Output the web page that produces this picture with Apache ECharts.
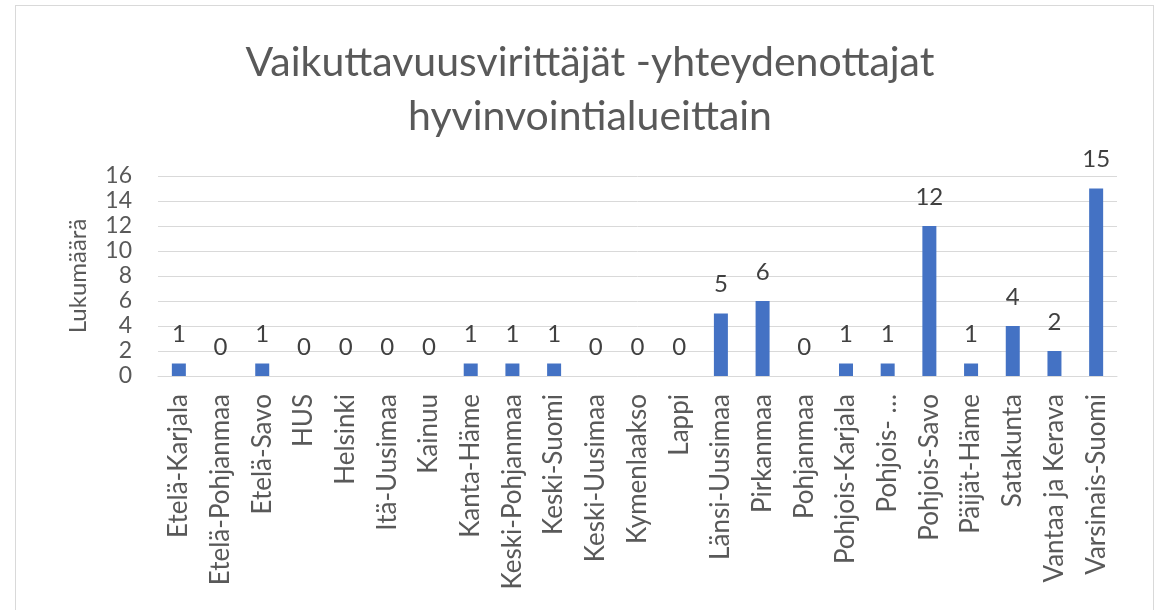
<!DOCTYPE html>
<html>
<head>
<meta charset="utf-8">
<script src="https://cdn.jsdelivr.net/npm/echarts@6/dist/echarts.min.js"></script>
<style>
  body { margin: 0; background: #fff; }
  .frame {
    position: absolute;
    left: 15px;
    top: 5px;
    width: 1137px;
    height: 640px;
    border: 1px solid #d9d9d9;
  }
  #bar { width: 1160px; height: 610px; position: absolute; left: 0; top: 0; }
</style>
</head>
<body>
<div class="frame"></div>
<div id="bar"></div>
<script>
// hyvinvointialueet
const categories = [
  "Etelä-Karjala", "Etelä-Pohjanmaa", "Etelä-Savo", "HUS", "Helsinki",
  "Itä-Uusimaa", "Kainuu", "Kanta-Häme", "Keski-Pohjanmaa", "Keski-Suomi",
  "Keski-Uusimaa", "Kymenlaakso", "Lappi", "Länsi-Uusimaa", "Pirkanmaa",
  "Pohjanmaa", "Pohjois-Karjala", "Pohjois-Pohjanmaa", "Pohjois-Savo",
  "Päijät-Häme", "Satakunta", "Vantaa ja Kerava", "Varsinais-Suomi"
];
const counts = [1, 0, 1, 0, 0, 0, 0, 1, 1, 1, 0, 0, 0, 5, 6, 0, 1, 1, 12, 1, 4, 2, 15];
const yTicks = { min: 0, max: 16, step: 2 };

const font = "Lato, 'Open Sans', sans-serif";
const myEchart = echarts.init(document.getElementById("bar"));
myEchart.setOption({
  title: {
    text: "Vaikuttavuusvirittäjät -yhteydenottajat\nhyvinvointialueittain",
    left: 585,
    top: 31,
    textAlign: "center",
    textStyle: {
      fontFamily: font,
      fontSize: 41,
      fontWeight: "normal",
      color: "#595959",
      lineHeight: 54,
    },
  },
  grid: {
    left: 158,
    right: 43,
    top: 176,
    bottom: 234,
    containLabel: false,
  },
  xAxis: {
    type: "category",
    data: categories,
    axisTick: { show: false },
    axisLine: { lineStyle: { color: "#d9d9d9" } },
    axisLabel: {
      interval: 0,
      rotate: 90,
      margin: 18,
      fontFamily: font,
      fontSize: 26,
      color: "#595959",
      formatter: (v) => (v.length > 16 ? v.slice(0, 8) + " …" : v),
    },
  },
  yAxis: {
    type: "value",
    min: yTicks.min,
    max: yTicks.max,
    interval: yTicks.step,
    name: "Lukumäärä",
    nameLocation: "middle",
    nameGap: 68,
    nameTextStyle: { fontFamily: font, fontSize: 24, color: "#595959" },
    axisLine: { show: false },
    axisTick: { show: false },
    axisLabel: { fontFamily: font, fontSize: 23, color: "#595959", margin: 26 },
    splitLine: { lineStyle: { color: "#d9d9d9" } },
  },
  series: [
    {
      type: "bar",
      data: counts,
      barWidth: 14,
      itemStyle: { color: "#4472c4" },
      label: {
        show: true,
        position: "top",
        distance: 17,
        fontFamily: font,
        fontSize: 24,
        color: "#404040",
      },
    },
  ],
});
</script>
</body>
</html>
